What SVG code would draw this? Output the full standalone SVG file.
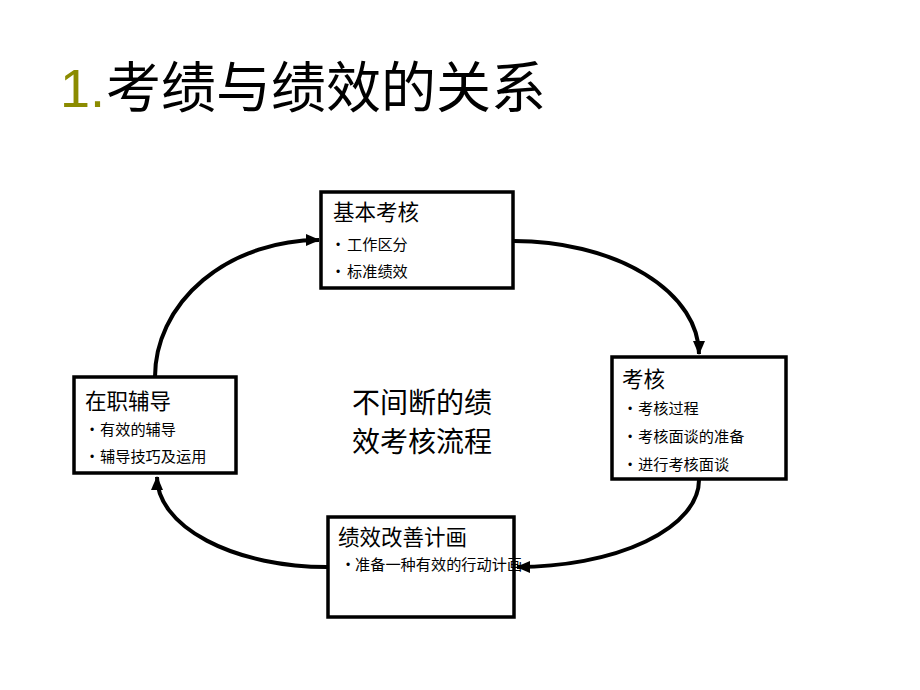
<svg xmlns="http://www.w3.org/2000/svg" width="920" height="690" viewBox="0 0 920 690">
<style>
.box{fill:#fff;stroke:#000;stroke-width:3.5}
.t{font-family:"Noto Sans CJK SC","Liberation Sans",sans-serif;fill:#000}
.h{font-size:21.5px}
.b{font-size:15.2px}
.d{font-family:"Liberation Sans",sans-serif;font-size:12px;fill:#000}
.c{font-size:28px}
.conn{fill:none;stroke:#000;stroke-width:4}
</style>
<defs>
<marker id="ah" markerUnits="userSpaceOnUse" markerWidth="14" markerHeight="12" refX="13" refY="6" orient="auto">
<path d="M0,0 L14,6 L0,12 z" fill="#000"/>
</marker>
</defs>
<rect width="920" height="690" fill="#fff"/>
<g id="title">
<text x="60" y="107" font-family="Liberation Sans,Arial,sans-serif" font-size="54" fill="#8B8B00">1.</text>
<text x="106" y="107" class="t" font-size="55">考绩与绩效的关系</text>
</g>
<g id="connectors">
<path class="conn" d="M155,377 A164,137 0 0 1 319,240" marker-end="url(#ah)"/>
<path class="conn" d="M514,241 A185,113 0 0 1 699,354" marker-end="url(#ah)"/>
<path class="conn" d="M699,480 A182,87 0 0 1 517,567" marker-end="url(#ah)"/>
<path class="conn" d="M327,567 A170,90 0 0 1 157,477" marker-end="url(#ah)"/>
</g>
<g id="node-jiben">
<rect class="box" x="321" y="192" width="192" height="96"/>
<text class="t h" x="333" y="220">基本考核</text>
<text class="d" x="336" y="249">•</text>
<text class="t b" x="347" y="250">工作区分</text>
<text class="d" x="336" y="276">•</text>
<text class="t b" x="347" y="277">标准绩效</text>
</g>
<g id="node-kaohe">
<rect class="box" x="612" y="357" width="174" height="122"/>
<text class="t h" x="622" y="387">考核</text>
<text class="d" x="628" y="413">•</text>
<text class="t b" x="638" y="414">考核过程</text>
<text class="d" x="628" y="441">•</text>
<text class="t b" x="638" y="442">考核面谈的准备</text>
<text class="d" x="628" y="469">•</text>
<text class="t b" x="638" y="470">进行考核面谈</text>
</g>
<g id="node-gaishan">
<rect class="box" x="328" y="517" width="186" height="100"/>
<text class="t h" x="338" y="545">绩效改善计画</text>
<text class="d" x="346" y="569">•</text>
<text class="t b" x="355" y="570">准备一种有效的行动计画</text>
</g>
<g id="node-fudao">
<rect class="box" x="74" y="377" width="162" height="96"/>
<text class="t h" x="85" y="409">在职辅导</text>
<text class="d" x="90" y="434">•</text>
<text class="t b" x="100" y="435">有效的辅导</text>
<text class="d" x="90" y="461">•</text>
<text class="t b" x="100" y="462">辅导技巧及运用</text>
</g>
<g id="center-label">
<text class="t c" x="352" y="413">不间断的绩</text>
<text class="t c" x="352" y="452">效考核流程</text>
</g>
</svg>
